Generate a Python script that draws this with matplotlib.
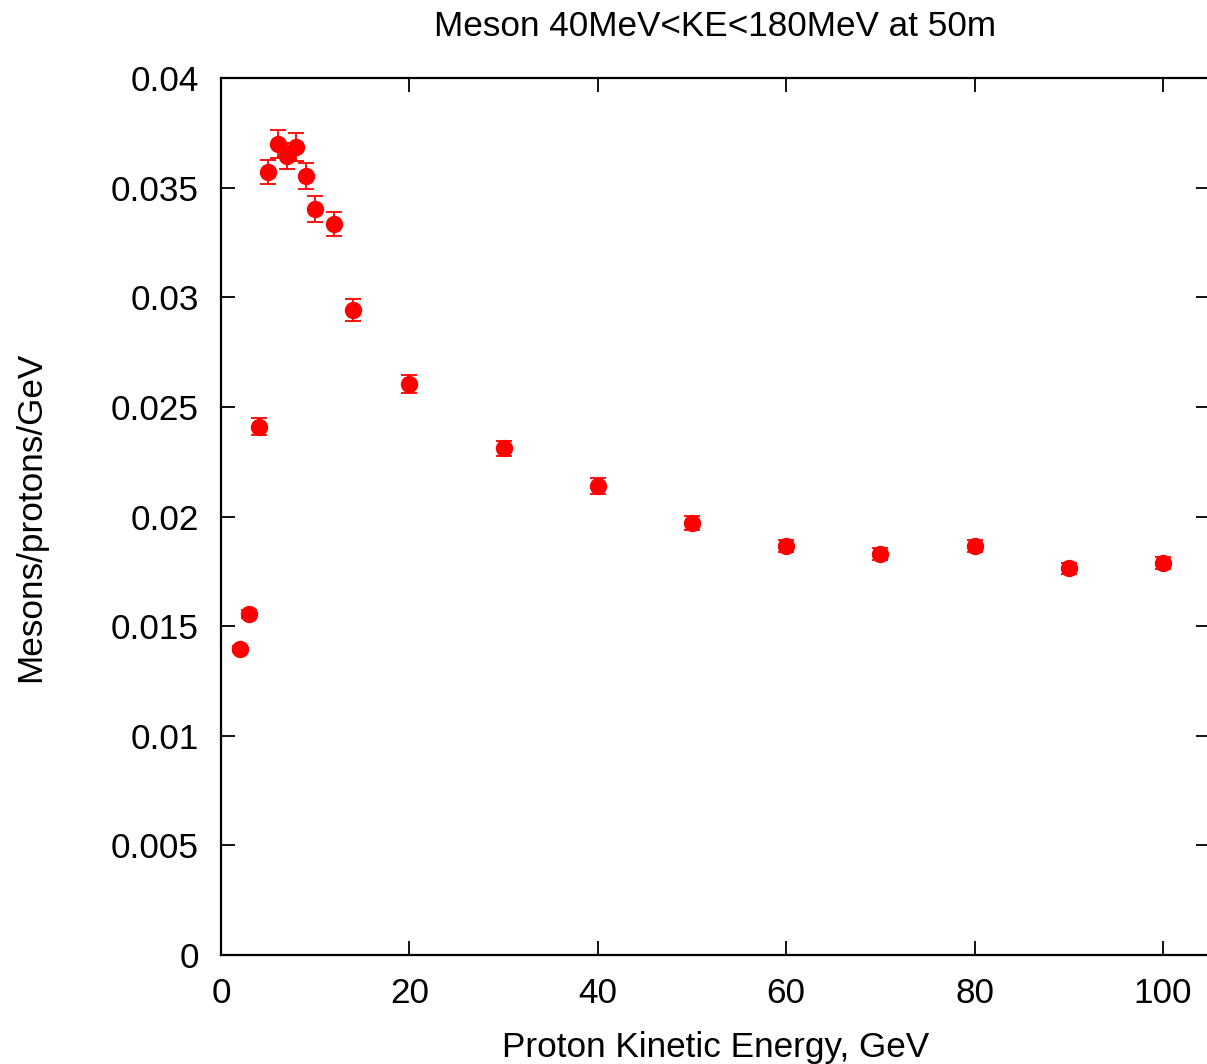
#!/usr/bin/env python3

import matplotlib
matplotlib.use("Agg")
import matplotlib.pyplot as plt
from matplotlib.ticker import FuncFormatter

# Proton kinetic energy (GeV) and meson yield per proton per GeV
energy = [2, 3, 4, 5, 6, 7, 8, 9, 10, 12, 14, 20, 30, 40, 50, 60, 70, 80, 90, 100]
yield_ = [0.01397, 0.01555, 0.0241, 0.03573, 0.03699, 0.03644, 0.03687, 0.03553,
          0.03403, 0.03336, 0.02942, 0.02604, 0.02311, 0.0214, 0.01972, 0.01867,
          0.01828, 0.01865, 0.01764, 0.01787]
yield_err = [0.00014, 0.00018, 0.00039, 0.00055, 0.00064, 0.00059, 0.00064, 0.00059,
             0.00058, 0.00055, 0.0005, 0.00041, 0.00034, 0.00036, 0.00032, 0.00027,
             0.00027, 0.00027, 0.00025, 0.00027]

x_ticks = [0, 20, 40, 60, 80, 100]
y_ticks = [0, 0.005, 0.01, 0.015, 0.02, 0.025, 0.03, 0.035, 0.04]

plt.rcParams["font.family"] = ["Liberation Sans", "DejaVu Sans"]
fs = 25.3

fig = plt.figure(figsize=(12.07, 10.64), dpi=100)
ax = fig.add_axes([221 / 1207, 109 / 1064, 989 / 1207, 877 / 1064])

ax.errorbar(energy, yield_, yerr=yield_err, fmt="o", color="red",
            markersize=11.5, elinewidth=1.3, capsize=6, capthick=1.3)

ax.set_xlim(0, 105)
ax.set_ylim(0, 0.04)
ax.set_xticks(x_ticks)
ax.set_yticks(y_ticks)
ax.yaxis.set_major_formatter(FuncFormatter(lambda v, p: "%g" % v))

ax.tick_params(direction="in", length=10, width=1.3, labelsize=fs,
               top=True, right=True, pad=16)
for s in ax.spines.values():
    s.set_linewidth(1.6)

ax.set_xlabel("Proton Kinetic Energy, GeV", fontsize=fs, labelpad=15)
ax.set_ylabel("Mesons/protons/GeV", fontsize=fs, labelpad=46)
fig.text(715 / 1207, 1 - 27 / 1064, "Meson 40MeV<KE<180MeV at 50m",
         fontsize=fs, ha="center", va="center")

fig.savefig("out.png", dpi=100)
